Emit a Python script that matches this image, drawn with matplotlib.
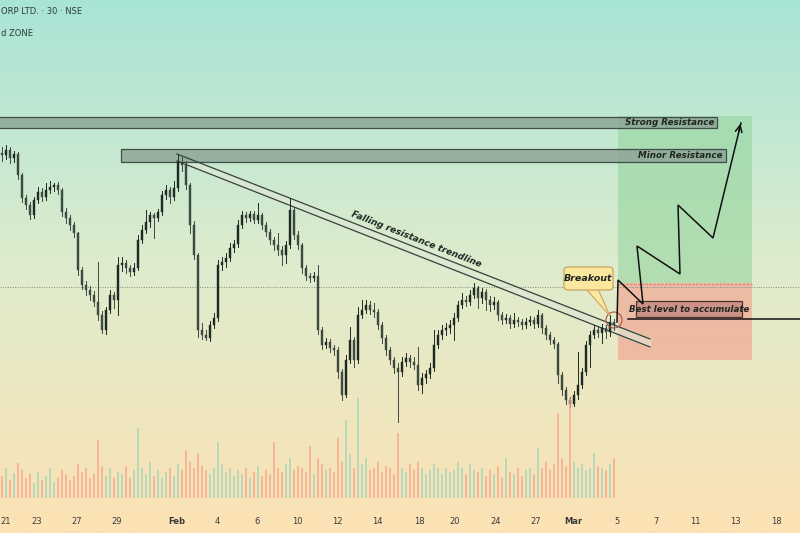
import numpy as np
import matplotlib
matplotlib.use("Agg")
import matplotlib.pyplot as plt
from matplotlib.patches import Rectangle, FancyBboxPatch, Circle, Polygon

# --- data (price units; one 30-min-ish candle every 4 px) ---
closes = [378, 383, 375, 379, 358, 335, 328, 318, 333, 341,
          336, 343, 346, 348, 343, 321, 315, 308, 300, 263,
          248, 243, 238, 231, 218, 203, 223, 238, 233, 268,
          270, 265, 261, 265, 293, 303, 311, 318, 315, 321,
          338, 343, 336, 345, 371, 368, 348, 308, 278, 203,
          198, 195, 208, 215, 268, 271, 275, 285, 289, 308,
          318, 315, 319, 313, 318, 308, 301, 293, 288, 283,
          278, 288, 323, 298, 288, 265, 257, 255, 257, 203,
          188, 191, 185, 183, 161, 138, 173, 193, 173, 218,
          223, 228, 223, 221, 208, 195, 183, 173, 165, 161,
          171, 175, 171, 168, 148, 155, 159, 165, 188, 198,
          203, 205, 208, 215, 228, 233, 231, 238, 245, 235,
          241, 233, 228, 231, 218, 213, 215, 209, 213, 211,
          208, 211, 213, 209, 218, 205, 198, 193, 189, 158,
          143, 133, 129, 138, 148, 161, 188, 198, 203, 200,
          205, 201, 211, 208]
highs = [386, 388, 386, 382, 381, 360, 338, 331, 336, 346,
         345, 350, 352, 350, 351, 345, 325, 318, 311, 301,
         266, 252, 247, 242, 271, 222, 226, 243, 241, 276,
         276, 273, 268, 270, 298, 308, 323, 321, 320, 324,
         342, 348, 346, 352, 378, 376, 372, 350, 312, 280,
         210, 203, 212, 220, 273, 276, 280, 290, 293, 313,
         322, 321, 322, 322, 330, 320, 311, 304, 296, 300,
         287, 292, 335, 326, 302, 290, 268, 260, 261, 268,
         206, 195, 194, 188, 186, 164, 178, 206, 196, 226,
         233, 233, 232, 230, 224, 211, 198, 186, 176, 170,
         176, 180, 178, 176, 186, 160, 163, 170, 203, 203,
         208, 210, 213, 220, 232, 240, 237, 243, 250, 247,
         245, 244, 237, 236, 233, 221, 219, 218, 220, 216,
         214, 215, 217, 216, 223, 220, 208, 201, 196, 191,
         161, 146, 136, 142, 181, 165, 192, 202, 208, 207,
         209, 208, 218, 214]
lows = [372, 374, 370, 371, 354, 331, 324, 314, 315, 330,
        332, 333, 340, 342, 339, 317, 310, 303, 296, 258,
        244, 238, 233, 227, 213, 200, 199, 220, 225, 218,
        262, 260, 257, 258, 263, 290, 300, 306, 295, 312,
        318, 334, 330, 333, 342, 362, 344, 300, 274, 196,
        194, 193, 192, 205, 212, 263, 266, 272, 281, 286,
        305, 311, 312, 310, 310, 304, 297, 289, 283, 278,
        268, 270, 285, 294, 284, 260, 253, 251, 252, 199,
        184, 185, 181, 178, 155, 133, 136, 170, 166, 170,
        215, 220, 219, 216, 204, 190, 178, 169, 160, 111,
        157, 167, 166, 164, 143, 140, 150, 155, 162, 185,
        194, 198, 200, 193, 212, 225, 227, 228, 235, 225,
        230, 223, 222, 224, 213, 209, 210, 205, 206, 207,
        204, 205, 208, 205, 206, 200, 194, 189, 185, 150,
        138, 129, 126, 127, 134, 145, 158, 166, 195, 196,
        190, 195, 197, 203]
first_open = 380
volumes = [22, 30, 18, 25, 35, 28, 20, 24, 15, 26,
           18, 22, 30, 16, 20, 28, 24, 18, 22, 34,
           26, 30, 20, 24, 58, 32, 22, 30, 20, 26,
           24, 32, 20, 28, 70, 30, 24, 36, 22, 28,
           20, 26, 30, 22, 34, 28, 48, 36, 30, 45,
           32, 28, 24, 30, 56, 34, 26, 30, 22, 28,
           24, 30, 20, 26, 32, 22, 28, 24, 56, 30,
           26, 34, 40, 28, 32, 30, 26, 52, 24, 40,
           34, 28, 30, 26, 60, 36, 78, 44, 30, 100,
           34, 40, 28, 30, 36, 26, 32, 30, 24, 65,
           30, 26, 34, 28, 36, 30, 24, 28, 34, 30,
           24, 30, 26, 28, 36, 30, 24, 34, 28, 26,
           30, 22, 28, 24, 32, 20, 40, 26, 24, 30,
           22, 28, 30, 24, 50, 30, 36, 28, 34, 85,
           40, 32, 100, 36, 30, 34, 28, 30, 45, 32,
           30, 28, 34, 40]

date_labels = ["21", "23", "27", "29", "Feb", "4", "6", "10", "12", "14",
               "18", "20", "24", "27", "Mar", "5", "7", "11", "13", "18"]
date_pos = [6, 37, 77, 117, 177, 217, 257, 297, 337, 377,
            419, 455, 496, 536, 573, 617, 656, 695, 735, 776]

W, H = 800, 533
P = lambda y: H - y  # pixel row -> price units


def main():
    fig = plt.figure(figsize=(8, 5.33), dpi=100)
    ax = fig.add_axes([0, 0, 1, 1])
    ax.set_xlim(0, W)
    ax.set_ylim(0, H)
    ax.axis("off")

    # background gradient (teal top -> peach bottom)
    stops = np.array([[168, 228, 214], [222, 236, 205], [253, 226, 180]]) / 255
    t = np.linspace(0, 1, 256)
    grad = np.stack([np.interp(t, [0, 0.5, 1], stops[:, k]) for k in range(3)], axis=1)
    ax.imshow(grad[:, None, :], extent=[0, W, 0, H], aspect="auto", origin="upper", zorder=0)

    # header text
    ax.text(1, P(12), "ORP LTD. · 30 · NSE", fontsize=6, color="#2f3b36", va="center", zorder=5)
    ax.text(1, P(33), "d ZONE", fontsize=6, color="#2f3b36", va="center", zorder=5)

    # volume on a twin axis
    vax = ax.twinx()
    vax.set_ylim(-35, H - 35)
    vax.axis("off")
    n = len(closes)
    x = 2 + 4 * np.arange(n)
    opens = np.r_[first_open, closes[:-1]]
    c = np.array(closes)
    up = c >= opens
    vcol = np.where(up, "#9fd4bb", "#f6a48a")
    vax.bar(x, volumes, width=1.6, color=vcol, alpha=0.7, zorder=1)

    # dotted last-price line
    ax.axhline(P(287), color="#7d8a82", lw=0.7, ls=(0, (1, 1.5)), zorder=2)

    # target / stop zones
    ax.add_patch(Rectangle((618, P(283)), 134, 167, facecolor="#8fd39a", alpha=0.55, lw=0, zorder=1.5))
    ax.add_patch(Rectangle((618, P(360)), 134, 77, facecolor="#f39c8a", alpha=0.6, lw=0, zorder=1.5))
    ax.plot([618, 752], [P(284), P(284)], color="#e07a6a", lw=0.8, ls=(0, (2, 1.5)), zorder=2)

    # resistance bands
    band_kw = dict(facecolor="#8ea596", edgecolor="#2e3a33", lw=0.9, alpha=0.85, zorder=3)
    ax.add_patch(Rectangle((-2, P(128)), 719, 11, **band_kw))
    ax.add_patch(Rectangle((121, P(162)), 605, 13, **band_kw))
    lab = dict(fontsize=6.3, fontstyle="italic", fontweight="bold", color="#1d2621",
               ha="right", va="center", zorder=4)
    ax.text(714, P(122.5), "Strong Resistance", **lab)
    ax.text(723, P(155.5), "Minor Resistance", **lab)

    # falling resistance channel
    xa, xb = 177, 650
    up_l = [P(154), P(339)]
    lo_l = [P(161), P(347)]
    ax.fill_between([xa, xb], lo_l, up_l, color="#dfe6d6", alpha=0.6, zorder=2)
    ax.plot([xa, xb], up_l, color="#34423a", lw=0.9, zorder=3)
    ax.plot([xa, xb], lo_l, color="#34423a", lw=0.9, zorder=3)
    ax.text(416, P(239), "Falling resistance trendline", rotation=-21.5, rotation_mode="anchor",
            fontsize=6.5, fontstyle="italic", fontweight="bold", color="#1d2621",
            ha="center", va="center", zorder=4)

    # candles
    dark = "#1f2a24"
    for xi, o, cl, h, l, u in zip(x, opens, c, highs, lows, up):
        col = dark if u else "#3d4a42"
        ax.plot([xi, xi], [l, h], color=col, lw=0.7, zorder=4)
        ax.add_patch(Rectangle((xi - 1.2, min(o, cl)), 2.4, max(abs(cl - o), 0.8),
                               facecolor=col, edgecolor=col, lw=0.3, zorder=4))

    # breakout circle and callout
    ax.add_patch(Circle((614, P(320)), 8, facecolor="none", edgecolor="#b0503a", lw=0.8, zorder=5))
    ax.add_patch(Polygon([[586, P(289)], [598, P(289)], [610, P(316)]], closed=True,
                         facecolor="#fce79e", edgecolor="#c9a660", lw=0.8, zorder=5))
    ax.add_patch(FancyBboxPatch((564, P(290)), 49, 23, boxstyle="round,pad=0,rounding_size=4",
                                facecolor="#fce79e", edgecolor="#c9a660", lw=0.9, zorder=6))
    ax.text(588.5, P(278.5), "Breakout", fontsize=6.8, fontstyle="italic", fontweight="bold",
            color="#1d2621", ha="center", va="center", zorder=7)

    # accumulation level
    ax.plot([628, W], [P(319), P(319)], color="#111", lw=1.1, zorder=5)
    ax.add_patch(Rectangle((636, P(317)), 106, 16, facecolor="#c98d84", edgecolor="#3b2a26",
                           lw=0.9, alpha=0.9, zorder=6))
    ax.text(689, P(309), "Best level to accumulate", fontsize=6.2, fontstyle="italic",
            fontweight="bold", color="#1d2621", ha="center", va="center", zorder=7)

    # projected path
    px = [617, 618, 643, 637, 680, 678, 713, 741]
    py = [322, 280, 304, 246, 274, 205, 238, 123]
    ax.plot(px, [P(v) for v in py], color="#111", lw=1.1, zorder=6, solid_joinstyle="miter")
    ax.annotate("", xy=(741, P(121)), xytext=(738, P(135)),
                arrowprops=dict(arrowstyle="->", color="#111", lw=1.1, mutation_scale=12), zorder=6)

    # date axis labels
    for lbl, xp in zip(date_labels, date_pos):
        bold = lbl in ("Feb", "Mar")
        ax.text(xp, P(522), lbl, fontsize=6, color="#3a3a3a", ha="center", va="center",
                fontweight="bold" if bold else "normal", clip_on=True, zorder=5)

    fig.savefig("out.png", dpi=100)


if __name__ == "__main__":
    main()
